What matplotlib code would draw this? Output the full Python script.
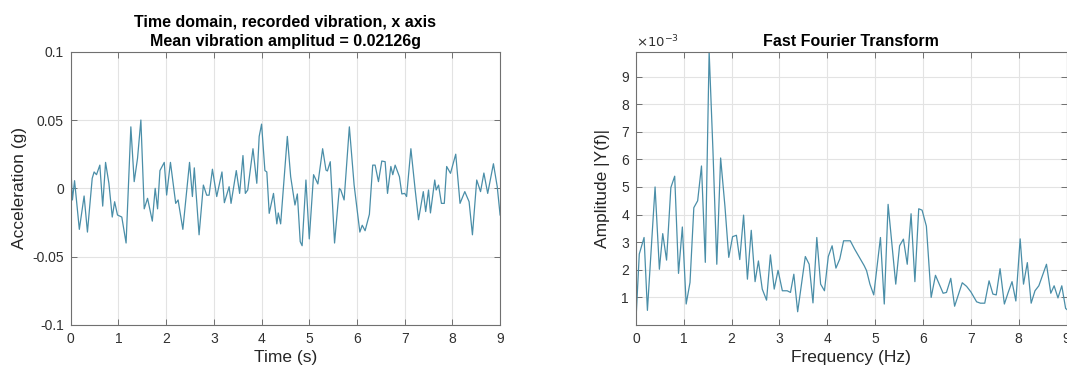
import matplotlib
matplotlib.use("Agg")
import matplotlib.pyplot as plt
import numpy as np

# ---- time-domain data ----
time_s = [0.0, 0.035, 0.08, 0.18, 0.28, 0.35, 0.45, 0.49, 0.54, 0.61, 0.67, 0.73, 0.8, 0.87, 0.92,
          0.98, 1.07, 1.16, 1.26, 1.33, 1.4, 1.47, 1.54, 1.61, 1.71, 1.77, 1.82, 1.87, 1.96, 2.01,
          2.09, 2.2, 2.25, 2.35, 2.49, 2.55, 2.59, 2.69, 2.78, 2.85, 2.9, 2.97, 3.06, 3.17, 3.22,
          3.32, 3.36, 3.47, 3.54, 3.61, 3.66, 3.71, 3.82, 3.9, 3.95, 4.0, 4.07, 4.11, 4.16, 4.25,
          4.32, 4.35, 4.4, 4.54, 4.61, 4.7, 4.75, 4.81, 4.85, 4.93, 5.0, 5.09, 5.18, 5.28, 5.35,
          5.38, 5.44, 5.53, 5.63, 5.66, 5.73, 5.84, 5.94, 6.06, 6.11, 6.17, 6.26, 6.33, 6.38, 6.45,
          6.52, 6.59, 6.64, 6.71, 6.75, 6.8, 6.89, 6.94, 7.0, 7.04, 7.13, 7.22, 7.29, 7.39, 7.44,
          7.5, 7.54, 7.63, 7.66, 7.71, 7.77, 7.83, 7.88, 7.96, 8.07, 8.16, 8.26, 8.35, 8.42, 8.51,
          8.59, 8.66, 8.74, 8.86, 8.94, 9.0]
accel_g = [0.017, -0.0085, 0.0056, -0.030, -0.0056, -0.032, 0.0073, 0.012, 0.010, 0.017, -0.013,
           0.019, 0.0036, -0.021, -0.0098, -0.0195, -0.021, -0.040, 0.045, 0.0049, 0.022, 0.050,
           -0.015, -0.0073, -0.024, 0.0, -0.015, 0.013, 0.019, -0.0049, 0.019, -0.011, -0.0085,
           -0.030, 0.019, -0.006, 0.015, -0.034, 0.0024, -0.005, -0.005, 0.014, -0.006, 0.012,
           -0.0105, 0.0012, -0.011, 0.013, -0.0037, 0.024, -0.0037, -0.0012, 0.029, 0.0037, 0.038,
           0.047, 0.013, 0.012, -0.0183, -0.0037, -0.026, -0.018, -0.026, 0.038, 0.0085, -0.0122,
           -0.0041, -0.039, -0.042, 0.0061, -0.037, 0.010, 0.0032, 0.029, 0.0134, 0.0127, 0.0195,
           -0.040, 0.0, -0.0012, -0.0085, 0.045, 0.0024, -0.032, -0.027, -0.031, -0.019, 0.017,
           0.017, 0.0049, 0.020, 0.0195, -0.0037, 0.016, 0.010, 0.017, 0.0085, -0.0041, -0.0037,
           -0.006, 0.029, -0.0012, -0.023, -0.0024, -0.017, -0.0012, -0.018, 0.0061, -0.0012,
           0.0024, -0.011, -0.011, 0.016, 0.011, 0.025, -0.011, -0.0024, -0.0098, -0.034, 0.0061,
           -0.0024, 0.0112, -0.0037, 0.018, 0.0012, -0.0195]

# ---- FFT data, amplitude in units of 1e-3 ----
freq_hz = [0.0, 0.07, 0.17, 0.24, 0.4, 0.49, 0.56, 0.64, 0.73, 0.81, 0.89, 0.97, 1.05, 1.13, 1.21,
           1.29, 1.37, 1.45, 1.53, 1.61, 1.69, 1.77, 1.86, 1.94, 2.02, 2.1, 2.17, 2.25, 2.33, 2.41,
           2.49, 2.56, 2.64, 2.73, 2.81, 2.89, 2.97, 3.06, 3.16, 3.23, 3.3, 3.38, 3.54, 3.62, 3.7,
           3.78, 3.86, 3.94, 4.02, 4.1, 4.18, 4.26, 4.34, 4.48, 4.57, 4.67, 4.77, 4.82, 4.89, 4.97,
           5.11, 5.19, 5.27, 5.43, 5.51, 5.59, 5.67, 5.75, 5.83, 5.91, 5.98, 6.07, 6.17, 6.26, 6.42,
           6.49, 6.58, 6.66, 6.82, 6.91, 7.0, 7.12, 7.2, 7.29, 7.38, 7.46, 7.53, 7.61, 7.7, 7.78,
           7.86, 7.94, 8.03, 8.1, 8.18, 8.26, 8.34, 8.42, 8.58, 8.67, 8.74, 8.82, 8.9, 8.98, 9.05]
amp_e3 = [0.16, 2.57, 3.17, 0.53, 5.0, 2.02, 3.31, 2.35, 4.98, 5.39, 1.87, 3.55, 0.76, 1.54, 4.25,
          4.5, 5.76, 2.27, 9.9, 6.3, 2.2, 6.05, 4.3, 2.45, 3.2, 3.25, 2.37, 3.98, 1.66, 3.43,
          1.57, 2.32, 1.3, 0.9, 2.54, 1.3, 1.98, 1.24, 1.24, 1.18, 1.84, 0.48, 2.48, 2.2, 0.8,
          3.17, 1.48, 1.24, 2.48, 2.87, 2.06, 2.39, 3.05, 3.05, 2.75, 2.45, 2.15, 1.97, 1.48, 1.09,
          3.17, 0.76, 4.37, 1.48, 2.87, 3.11, 2.2, 4.03, 1.57, 4.21, 4.16, 3.58, 1.0, 1.8, 1.15,
          1.18, 1.69, 0.68, 1.53, 1.4, 1.2, 0.84, 0.79, 0.79, 1.6, 1.12, 1.09, 2.04, 0.76, 1.18,
          1.57, 0.87, 3.12, 1.48, 2.26, 0.79, 1.24, 1.42, 2.2, 1.15, 1.42, 0.98, 1.42, 0.6, 0.5]

line_color = "#4a8ea8"
edge_color = "#707070"
tick_color = "#303030"
grid_color = "#e3e3e3"
plt.rcParams['font.family'] = ['Liberation Sans', 'DejaVu Sans']

fig = plt.figure(figsize=(10.67, 3.73), dpi=100)
ax1 = fig.add_axes([0.0663, 0.1287, 0.4024, 0.7327])
ax2 = fig.add_axes([0.596, 0.1287, 0.4036, 0.7327])

def style(ax):
    for s in ax.spines.values():
        s.set_color(edge_color)
        s.set_linewidth(0.8)
    ax.tick_params(direction='in', length=4, width=0.7, color=edge_color,
                   labelcolor=tick_color, labelsize=10, top=True, right=True, pad=5)
    ax.grid(True, color=grid_color, linewidth=0.8)
    ax.set_axisbelow(True)

ax1.plot(time_s, accel_g, color=line_color, linewidth=0.9)
ax1.set_xlim(0, 9)
ax1.set_ylim(-0.1, 0.1)
ax1.set_xticks(range(10))
ax1.set_yticks([-0.1, -0.05, 0, 0.05, 0.1])
ax1.set_yticklabels(['-0.1', '-0.05', '0', '0.05', '0.1'])
style(ax1)
ax1.set_xlabel('Time (s)', fontsize=12.5, color='#262626', labelpad=3)
ax1.set_ylabel('Acceleration (g)', fontsize=12.5, color='#262626', labelpad=4)
ax1.set_title('Time domain, recorded vibration, x axis\nMean vibration amplitud = 0.02126g',
              fontsize=11.5, fontweight='bold', pad=4, linespacing=1.35)

amp = np.array(amp_e3) * 1e-3
ax2.plot(freq_hz, amp, color=line_color, linewidth=0.9)
ax2.set_xlim(0, 9)
ax2.set_ylim(0, max(amp))
ax2.set_xticks(range(10))
ax2.set_yticks(np.arange(1, 10) * 1e-3)
ax2.set_yticklabels([str(i) for i in range(1, 10)])
style(ax2)
ax2.set_xlabel('Frequency (Hz)', fontsize=12.5, color='#262626', labelpad=3)
ax2.set_ylabel('Amplitude |Y(f)|', fontsize=12.5, color='#262626', labelpad=8)
ax2.set_title('Fast Fourier Transform', fontsize=11.5, fontweight='bold', pad=4)
ax2.text(0.0, 1.005, r'$\times10^{-3}$', transform=ax2.transAxes, fontsize=9.5,
         color=tick_color, ha='left', va='bottom')

fig.savefig('out.png', dpi=100)
